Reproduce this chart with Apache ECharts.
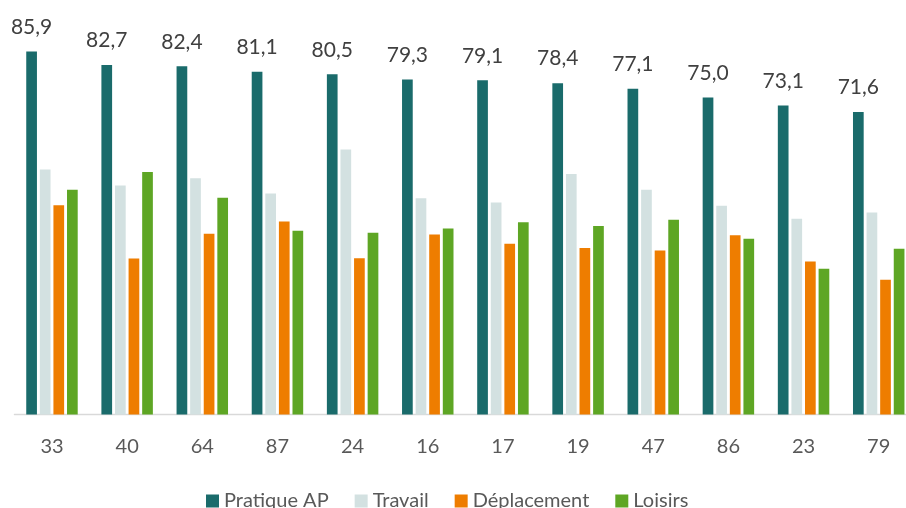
<!DOCTYPE html>
<html>
<head>
<meta charset="utf-8">
<script src="https://cdn.jsdelivr.net/npm/echarts@6/dist/echarts.min.js"></script>
<style>
  html, body { margin: 0; padding: 0; background: #ffffff; }
  #chart { width: 906px; height: 508px; }
</style>
</head>
<body>
<div id="chart"></div>
<script>
// Departments, ordered by overall physical-activity practice
const categories = ['33', '40', '64', '87', '24', '16', '17', '19', '47', '86', '23', '79'];

const seriesNames = ['Pratique AP', 'Travail', 'Déplacement', 'Loisirs'];

const pratiqueAP = [85.9, 82.7, 82.4, 81.1, 80.5, 79.3, 79.1, 78.4, 77.1, 75.0, 73.1, 71.6];
const travail    = [58.0, 54.2, 55.9, 52.3, 62.7, 51.2, 50.2, 56.9, 53.2, 49.4, 46.3, 47.8];
const deplacement = [49.5, 36.9, 42.8, 45.7, 37.0, 42.6, 40.4, 39.4, 38.8, 42.4, 36.2, 31.9];
const loisirs    = [53.2, 57.4, 51.3, 43.5, 43.0, 44.0, 45.5, 44.6, 46.1, 41.6, 34.5, 39.2];

const colors = ['#1a6b6b', '#d3e1e1', '#ee7d00', '#5ea624'];

const FONT = 'Lato, "Noto Sans", sans-serif';

const chart = echarts.init(document.getElementById('chart'), null, { renderer: 'canvas' });

function barSeries(name, data, color, withLabels) {
  const s = {
    name: name,
    type: 'bar',
    data: data,
    barWidth: 10.7,
    barGap: '27%',
    itemStyle: { color: color },
    emphasis: { disabled: true },
    animation: false
  };
  if (withLabels) {
    s.label = {
      show: true,
      position: 'top',
      distance: 14,
      fontFamily: FONT,
      fontSize: 21,
      lineHeight: 21,
      color: '#404040',
      formatter: p => p.value.toFixed(1).replace('.', ',')
    };
  }
  return s;
}

chart.setOption({
  backgroundColor: '#ffffff',
  animation: false,
  color: colors,
  // plot band runs slightly past the right edge of the canvas
  grid: {
    left: 14.4, width: 901.9, top: 34.2, bottom: 93.5,
    containLabel: false,
    outerBoundsMode: 'none'
  },
  legend: {
    data: seriesNames,
    left: 206,
    top: 491,
    padding: 0,
    itemWidth: 13,
    itemHeight: 13,
    itemGap: 26,
    icon: 'rect',
    textStyle: { fontFamily: FONT, fontSize: 20, lineHeight: 20, color: '#595959' }
  },
  xAxis: {
    type: 'category',
    data: categories,
    axisLine: { show: true, lineStyle: { color: '#d9d9d9', width: 1.3 } },
    axisTick: { show: false },
    axisLabel: { margin: 22, fontFamily: FONT, fontSize: 20, lineHeight: 20, color: '#595959' }
  },
  yAxis: {
    type: 'value',
    min: 0,
    max: 90,
    show: false,
    splitLine: { show: false }
  },
  series: [
    barSeries(seriesNames[0], pratiqueAP, colors[0], true),
    barSeries(seriesNames[1], travail, colors[1], false),
    barSeries(seriesNames[2], deplacement, colors[2], false),
    barSeries(seriesNames[3], loisirs, colors[3], false)
  ]
});
</script>
</body>
</html>
